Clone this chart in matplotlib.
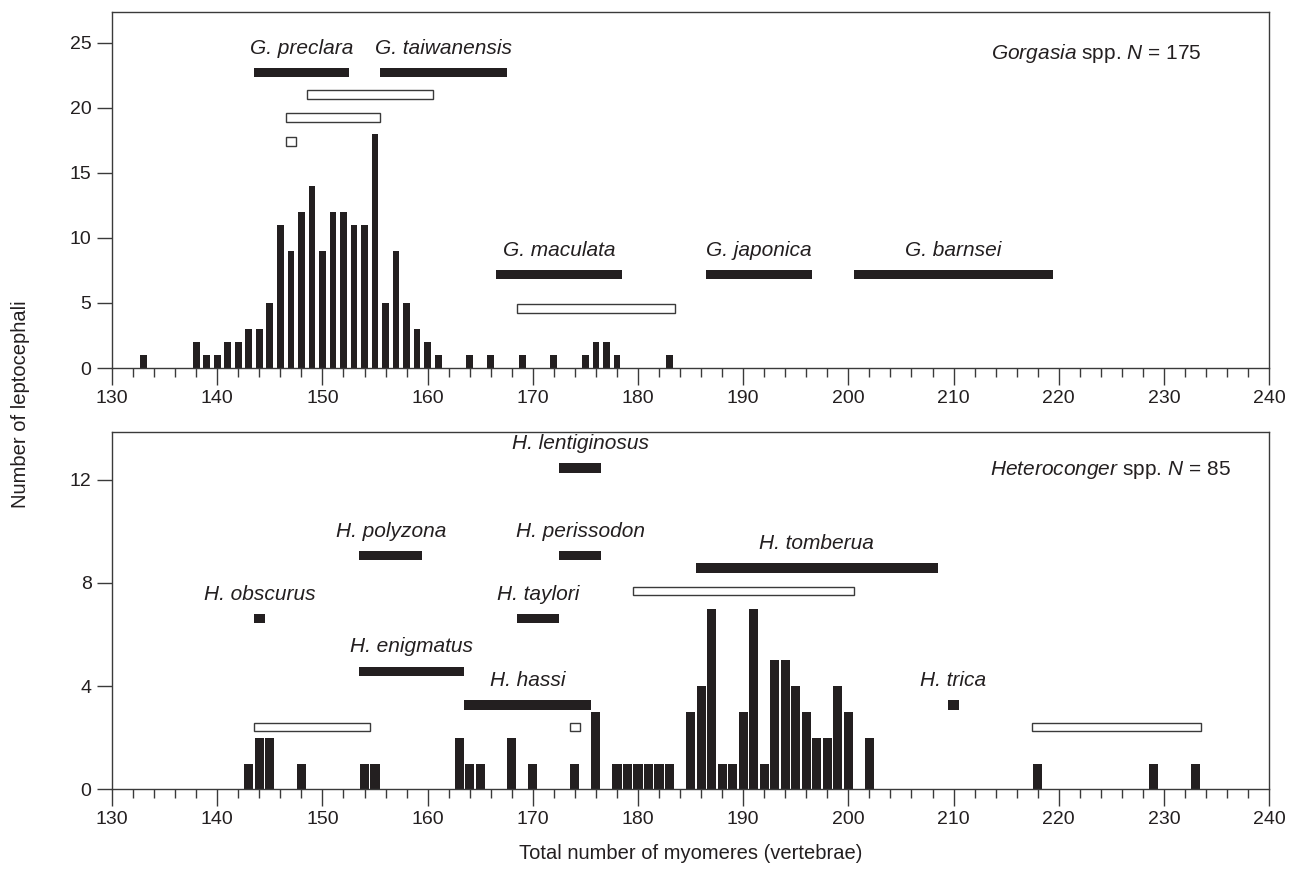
"""
Myomere count histograms for Gorgasia and Heteroconger leptocephali
"""

import matplotlib
matplotlib.use('Agg')
import matplotlib.pyplot as plt
from matplotlib.ticker import MultipleLocator

plt.rcParams['font.family'] = ['Liberation Sans', 'DejaVu Sans']
plt.rcParams['mathtext.fontset'] = 'custom'
plt.rcParams['mathtext.rm'] = 'Liberation Sans'
plt.rcParams['mathtext.it'] = 'Liberation Sans:italic'

INK = '#231f20'
EDGE = '#3a3a3a'

# --- Gorgasia histogram (N = 175)
gorg_myomeres = [133, 138, 139, 140, 141, 142, 143, 144, 145, 146, 147, 148, 149,
                 150, 151, 152, 153, 154, 155, 156, 157, 158, 159, 160, 161,
                 164, 166, 169, 172, 175, 176, 177, 178, 183]
gorg_counts = [1, 2, 1, 1, 2, 2, 3, 3, 5, 11, 9, 12, 14,
               9, 12, 12, 11, 11, 18, 5, 9, 5, 3, 2, 1,
               1, 1, 1, 1, 1, 2, 2, 1, 1]

# --- Heteroconger histogram (N = 85)
het_myomeres = [143, 144, 145, 148, 154, 155, 163, 164, 165, 168, 170, 174, 176,
                178, 179, 180, 181, 182, 183, 185, 186, 187, 188, 189, 190, 191,
                192, 193, 194, 195, 196, 197, 198, 199, 200, 202, 218, 229, 233]
het_counts = [1, 2, 2, 1, 1, 1, 2, 1, 1, 2, 1, 1, 3,
              1, 1, 1, 1, 1, 1, 3, 4, 7, 1, 1, 3, 7,
              1, 5, 5, 4, 3, 2, 2, 4, 3, 2, 1, 1, 1]

# --- species ranges (adults: filled, larvae: open)
gorg_names = ['G. preclara', 'G. taiwanensis', '', '', '',
              'G. maculata', '', 'G. japonica', 'G. barnsei']
gorg_lo = [144, 156, 149, 147, 147, 167, 169, 187, 201]
gorg_hi = [152, 167, 160, 155, 147, 178, 183, 196, 219]
gorg_filled = [True, True, False, False, False, True, False, True, True]
gorg_level = [22.7, 22.7, 21.0, 19.25, 17.4, 7.18, 4.6, 7.18, 7.18]

het_names = ['H. lentiginosus', 'H. polyzona', 'H. perissodon', 'H. tomberua', '',
             'H. obscurus', 'H. taylori', 'H. enigmatus', 'H. hassi', 'H. trica',
             '', '', '']
het_lo = [173, 154, 173, 186, 180, 144, 169, 154, 164, 210, 144, 174, 218]
het_hi = [176, 159, 176, 208, 200, 144, 172, 163, 175, 210, 154, 174, 233]
het_filled = [True, True, True, True, False, True, True, True, True, True,
              False, False, False]
het_level = [12.45, 9.05, 9.05, 8.58, 7.69, 6.61, 6.61, 4.58, 3.27, 3.27,
             2.42, 2.42, 2.42]


def draw_ranges(ax, names, lo, hi, filled, levels, thick):
    for name, a, b, f, y in zip(names, lo, hi, filled, levels):
        left = a - 0.5
        width = b - a + 1
        if f:
            ax.barh(y, width, left=left, height=thick, color=INK, lw=0, zorder=3)
        else:
            ax.barh(y, width, left=left, height=thick * 0.93, facecolor='white',
                    edgecolor=EDGE, lw=1.0, zorder=3)
        if name:
            ax.annotate(name, ((a + b) / 2, y), xytext=(0, 13.5),
                        textcoords='offset points', ha='center', va='baseline',
                        style='italic', fontsize=15, color=INK)


def style_axis(ax, ymax, ystep):
    ax.set_xlim(130, 240)
    ax.set_ylim(0, ymax)
    ax.xaxis.set_major_locator(MultipleLocator(10))
    ax.xaxis.set_minor_locator(MultipleLocator(2))
    ax.yaxis.set_major_locator(MultipleLocator(ystep))
    for sp in ax.spines.values():
        sp.set_color(EDGE)
        sp.set_linewidth(1.0)
    ax.tick_params(axis='x', which='major', direction='out', length=12.5,
                   width=1, pad=3, labelsize=14, color=EDGE, labelcolor=INK)
    ax.tick_params(axis='x', which='minor', direction='out', length=6.5,
                   width=1, color=EDGE)
    ax.tick_params(axis='y', which='major', direction='out', length=10.8,
                   width=1, pad=4, labelsize=14, color=EDGE, labelcolor=INK)


fig = plt.figure(figsize=(12.97, 8.69), dpi=100)
ax1 = fig.add_axes([0.0864, 0.5765, 0.8921, 0.4093])
ax2 = fig.add_axes([0.0864, 0.0917, 0.8921, 0.4112])

# top panel
ax1.bar(gorg_myomeres, gorg_counts, width=0.64, color=INK, lw=0, zorder=2)
draw_ranges(ax1, gorg_names, gorg_lo, gorg_hi, gorg_filled, gorg_level, 0.72)
style_axis(ax1, 27.34, 5)
ax1.text(0.942, 0.885, r'$\it{Gorgasia}$ spp. $\it{N}$ = 175',
         transform=ax1.transAxes, ha='right', va='center', fontsize=15, color=INK)

# bottom panel
ax2.bar(het_myomeres, het_counts, width=0.87, color=INK, lw=0, zorder=2)
draw_ranges(ax2, het_names, het_lo, het_hi, het_filled, het_level, 0.36)
style_axis(ax2, 13.85, 4)
ax2.text(0.967, 0.894, r'$\it{Heteroconger}$ spp. $\it{N}$ = 85',
         transform=ax2.transAxes, ha='right', va='center', fontsize=15, color=INK)

fig.text(0.016, 0.535, 'Number of leptocephali', rotation=90,
         ha='center', va='center', fontsize=14.5, color=INK)
fig.text(0.5324, 0.0184, 'Total number of myomeres (vertebrae)',
         ha='center', va='center', fontsize=14.5, color=INK)

fig.savefig('out.png', dpi=100)
